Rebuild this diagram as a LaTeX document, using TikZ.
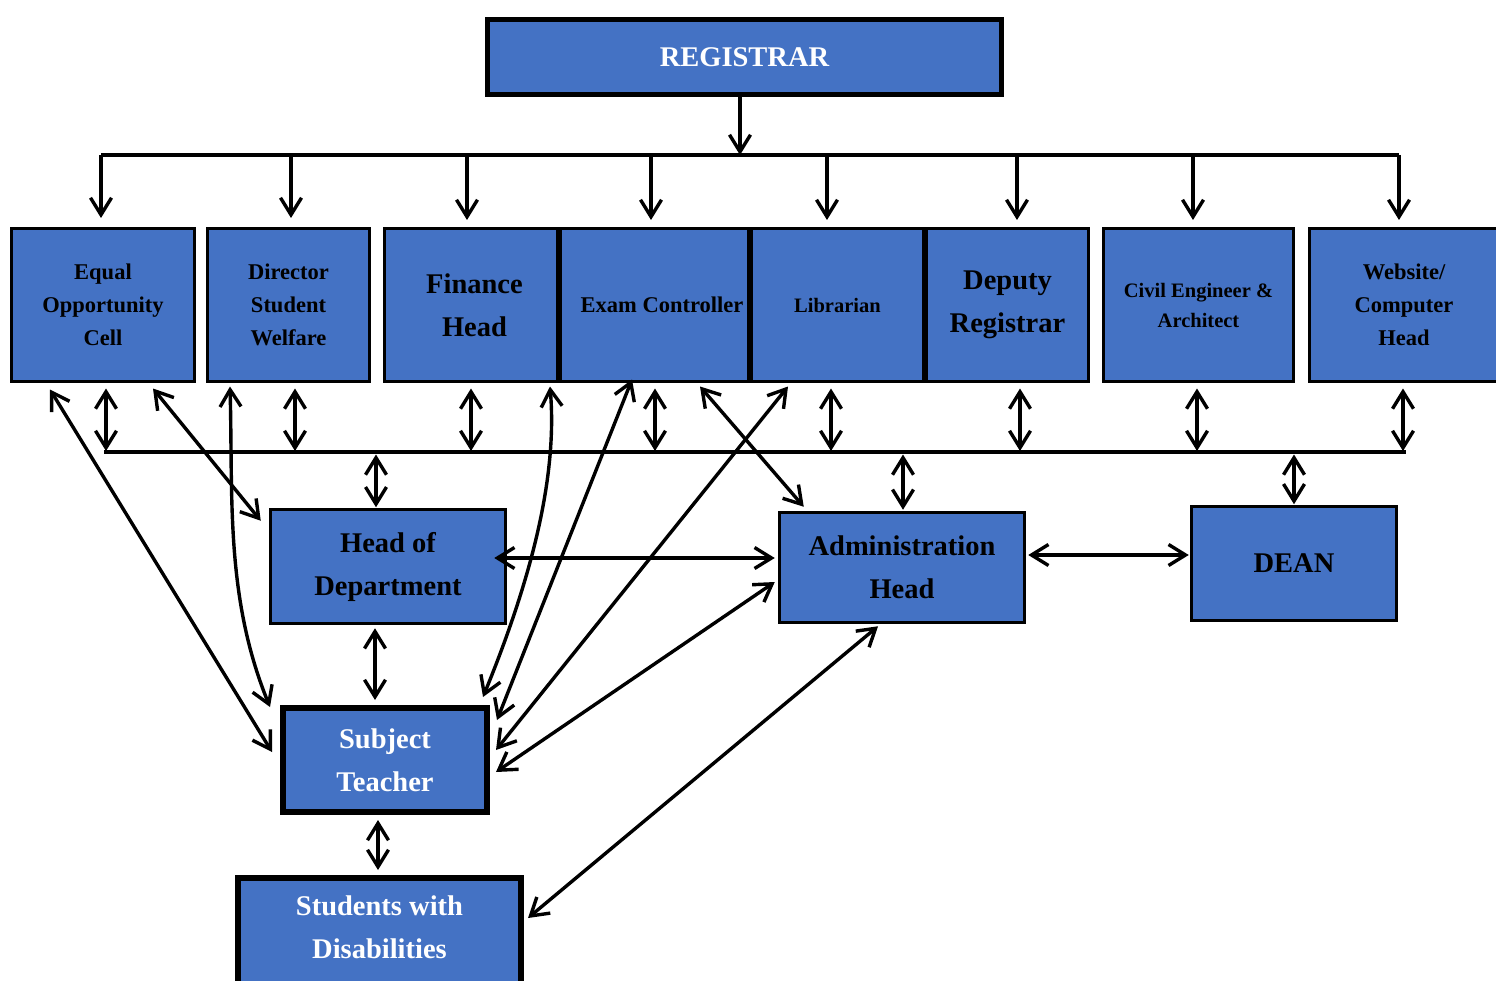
\documentclass[tikz,border=0pt]{standalone}
\usepackage{fontspec}
\setmainfont{Liberation Serif}
\usetikzlibrary{arrows.meta,calc}
\definecolor{boxblue}{HTML}{4472C4}
\newcommand{\bigf}{\fontsize{28.5}{43}\selectfont\bfseries}
\newcommand{\smlf}{\fontsize{22.5}{33}\selectfont\bfseries}
\newcommand{\civf}{\fontsize{20.5}{30}\selectfont\bfseries}
\tikzset{
  box/.style={draw=black, fill=boxblue, line width=3pt, inner sep=0pt, align=center, text=black},
  thickbox/.style={box, line width=6pt, text=white},
  bus/.style={line width=3.2pt},
  arr/.style={line width=3.4pt, -{Straight Barb[length=17pt,width=21pt]}},
  darr/.style={line width=3.4pt, {Straight Barb[length=17pt,width=21pt]}-{Straight Barb[length=17pt,width=21pt]}},
}
\begin{document}
\begin{tikzpicture}[x=1pt,y=-1pt]
\useasboundingbox (0,0) rectangle (1496,981);
% boxes
\node[box, line width=5pt, minimum width=514, minimum height=75, text=white, font=\bigf] (reg) at (744.5,57) {REGISTRAR};
\node[box, minimum width=183, minimum height=153, font=\smlf] (eoc) at (103,305) {Equal\\Opportunity\\Cell};
\node[box, minimum width=162, minimum height=153, font=\smlf] (dsw) at (288.5,305) {Director\\Student\\Welfare};
\node[box, minimum width=173, minimum height=153, font=\bigf] (fin) at (471,305) {\hspace*{7pt}Finance\\\hspace*{7pt}Head};
\node[box, minimum width=188, minimum height=153, font=\smlf] (exam) at (654.5,305) {\hspace*{15pt}Exam Controller};
\node[box, minimum width=172, minimum height=153, font=\civf] (lib) at (837.5,305) {Librarian};
\node[box, minimum width=162, minimum height=153, font=\bigf] (dep) at (1007.5,305) {Deputy\\Registrar};
\node[box, minimum width=190, minimum height=153, font=\civf] (civ) at (1198.5,305) {Civil Engineer \&\\Architect};
\node[box, minimum width=189, minimum height=153, font=\smlf] (web) at (1404,305) {Website/\\Computer\\Head};
\node[box, line width=2.5pt, minimum width=235, minimum height=114, font=\bigf] (hod) at (388,566.5) {Head of\\Department};
\node[box, line width=2.5pt, minimum width=245, minimum height=110, font=\bigf] (adm) at (902,567.5) {Administration\\Head};
\node[box, line width=2.5pt, minimum width=205, minimum height=114, font=\bigf] (dean) at (1294,563.5) {DEAN};
\node[thickbox, minimum width=204, minimum height=104, font=\bigf] (st) at (385,760) {Subject\\Teacher};
\node[thickbox, minimum width=283, minimum height=109] (swd) at (379.5,932) {};
\node[text=white, font=\bigf, align=center, inner sep=0pt] (swdtext) at (379.5,927) {Students with\\Disabilities};

% top bus
\coordinate (tbL) at (101,155);
\coordinate (tbR) at (1399,155);
\coordinate (tbC) at (740,155);
\draw[bus] (tbL) -- (tbR);
\draw[arr] (reg.south -| tbC) -- (tbC);
\coordinate (d1) at ($(eoc.north)+(-2,-9)$);
\coordinate (d2) at ($(dsw.north)+(2.5,-9)$);
\coordinate (d3) at ($(fin.north)+(-4,-7)$);
\coordinate (d4) at ($(exam.north)+(-3.5,-7)$);
\coordinate (d5) at ($(lib.north)+(-10.5,-7)$);
\coordinate (d6) at ($(dep.north)+(9.5,-7)$);
\coordinate (d7) at ($(civ.north)+(-5.5,-7)$);
\coordinate (d8) at ($(web.north)+(-5,-7)$);
\foreach \d in {d1,d2,d3,d4,d5,d6,d7,d8} \draw[arr] (\d |- tbL) -- (\d);

% bottom bus
\coordinate (bbL) at (104,452);
\coordinate (bbR) at (1406,452);
\draw[bus] (bbL) -- (bbR);
\coordinate (u1) at ($(eoc.south)+(3,5.5)$);
\coordinate (u2) at ($(dsw.south)+(6.5,5.5)$);
\coordinate (u3) at ($(fin.south)+(0,5.5)$);
\coordinate (u4) at ($(exam.south)+(0.5,5.5)$);
\coordinate (u5) at ($(lib.south)+(-6.5,5.5)$);
\coordinate (u6) at ($(dep.south)+(12.5,5.5)$);
\coordinate (u7) at ($(civ.south)+(-1.5,5.5)$);
\coordinate (u8) at ($(web.south)+(-1,5.5)$);
\foreach \u in {u1,u2,u3,u4,u5,u6,u7,u8} \draw[darr] (\u) -- ($(\u |- bbL)+(0,-1)$);

\coordinate (h1) at ($(hod.north)+(-12,-1)$);
\coordinate (h2) at ($(adm.north)+(1,-1.5)$);
\coordinate (h3) at ($(dean.north)+(0,-1)$);
\foreach \h in {h1,h2,h3} \draw[darr] ($(\h |- bbL)+(0,2.5)$) -- (\h);

% cross connectors
\draw[darr] ($(eoc.south)+(-53,6.5)$) -- ($(st.west)+(-8,-8)$);
\draw[darr] ($(eoc.south)+(50,5.5)$) -- ($(hod.north west)+(-8.5,12.5)$);
\coordinate (c1) at ($(dsw.south)+(-58.5,3.5)$);
\coordinate (c2) at ($(st.north west)+(-10,2)$);
\draw[darr] (c1) .. controls ($(c1)+(3,110)$) and ($(c2)+(-45,-110)$) .. (c2);
\coordinate (c3) at ($(fin.south)+(79,3.5)$);
\coordinate (c4) at ($(st.north east)+(-7,-8)$);
\draw[darr] (c3) .. controls ($(c3)+(8,95)$) and ($(c4)+(45,-110)$) .. (c4);
\draw[darr] ($(exam.south)+(-22.5,-3.5)$) -- ($(st.north east)+(7,15)$);
\draw[darr] ($(exam.south)+(45.5,3.5)$) -- ($(adm.north west)+(25.5,-4.5)$);
\draw[darr] ($(lib.south)+(-49.5,3.5)$) -- ($(st.east)+(6,-10)$);
\draw[darr] ($(adm.west)+(-3.5,14.5)$) -- ($(st.east)+(6,12)$);
\draw[darr] ($(adm.south)+(-24,2.5)$) -- ($(swd.east)+(4,-14)$);
\draw[darr] ($(hod.east)+(-12.5,-8.5)$) -- ($(adm.west)+(-3.5,-9.5)$);
\draw[darr] ($(adm.east)+(2.5,-12.5)$) -- ($(dean.west)+(-1.5,-8.5)$);
\draw[darr] ($(hod.south)+(-13,3.5)$) -- ($(st.north)+(-10,-5)$);
\draw[darr] ($(st.south)+(-7,5)$) -- ($(swd.north)+(-1.5,-4.5)$);
\end{tikzpicture}
\end{document}
